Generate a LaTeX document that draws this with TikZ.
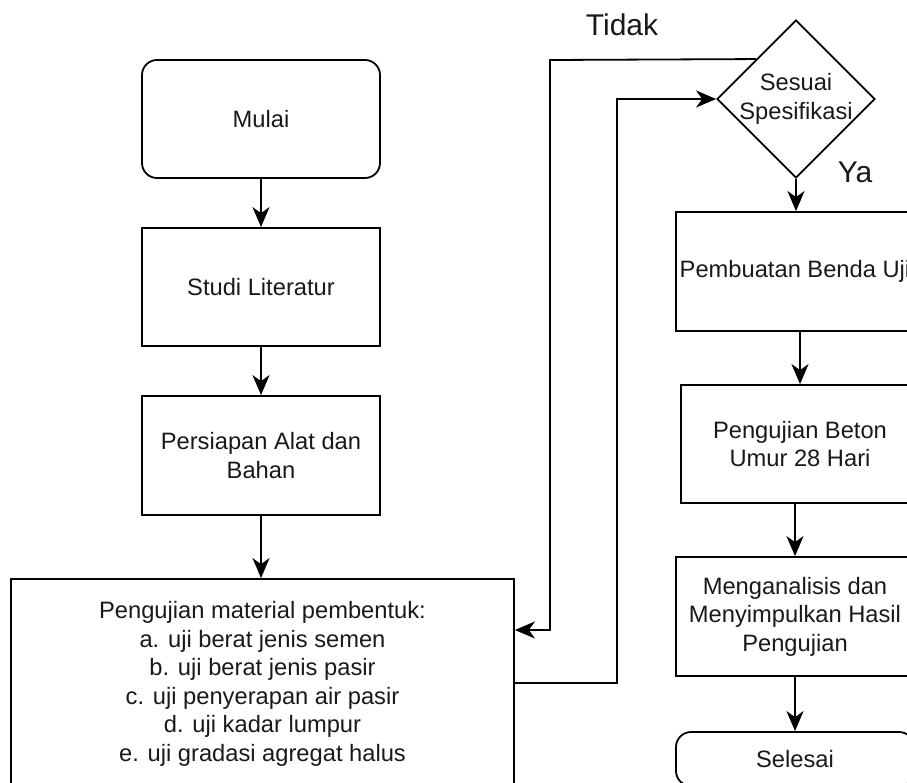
\documentclass[tikz,border=0pt]{standalone}
\usepackage{fontspec}
\setmainfont{Liberation Sans}
\usetikzlibrary{arrows.meta,shapes.geometric,calc}
\begin{document}
\begin{tikzpicture}[x=1pt,y=-1pt,
  txt/.style={font=\fontsize{23.7}{28.5}\selectfont,text=black!90,align=center},
  box/.style={txt,draw,line width=1.8pt,minimum width=238pt,minimum height=119pt,inner sep=0pt},
  rbox/.style={box,rounded corners=15pt},
  arr/.style={line width=1.8pt,-{Stealth[length=20pt,width=17pt,inset=6pt]}},
  lbl/.style={font=\fontsize{30}{34}\selectfont,text=black!90}]
\useasboundingbox (0,0) rectangle (907,782);
% left column
\node[rbox,minimum height=118pt] (mulai) at (261,119) {Mulai};
\node[box,minimum height=118pt] (studi) at (261,287) {Studi Literatur};
\node[box] (prep) at (261,455.5) {Persiapan Alat dan\\Bahan};
\node[box,minimum width=503pt,minimum height=210pt] (pm) at (262.5,684) {Pengujian material pembentuk:\\a. uji berat jenis semen\\b. uji berat jenis pasir\\c. uji penyerapan air pasir\\d. uji kadar lumpur\\e. uji gradasi agregat halus};
% decision
\node[diamond,draw,line width=1.8pt,minimum width=158pt,minimum height=158pt,inner sep=0pt] (dec) at (796,99) {};
\node[txt] (dectxt) at (dec.center) {Sesuai\\Spesifikasi};
% right column
\node[box] (pb) at (795,271.5) {Pembuatan Benda Uji};
\node[box,minimum height=118pt] (bt) at (800,444) {Pengujian Beton\\Umur 28 Hari};
\node[box] (mg) at (795,616.5) {Menganalisis dan\\Menyimpulkan Hasil\\Pengujian};
\node[rbox,minimum height=54pt] (sl) at (795,759) {Selesai};
% labels
\node[lbl] (tidak) at (622,25) {Tidak};
\node[lbl] (ya) at (855,172) {Ya};
% connectors
\draw[arr] (mulai) -- (studi);
\draw[arr] (studi) -- (prep);
\draw[arr] (prep) -- (prep.south |- pm.north);
\coordinate (loopout) at (pm.east |- 0,683);
\draw[arr] (loopout) -- (617,683) -- (617,99) -- (dec.west);
\coordinate (tstart) at ($(dec.north)!0.5!(dec.west)$);
\coordinate (tend) at (pm.east |- 0,630);
\draw[arr] (tstart) -- (550,60) -- (550,630) -- (tend);
\draw[arr] (dec.south) -- (pb.north -| dec.south);
\draw[arr] (pb.south -| bt.north) -- (bt.north);
\draw[arr] (bt.south -| mg.north) -- (mg.north);
\draw[arr] (mg) -- (sl);
\end{tikzpicture}
\end{document}
